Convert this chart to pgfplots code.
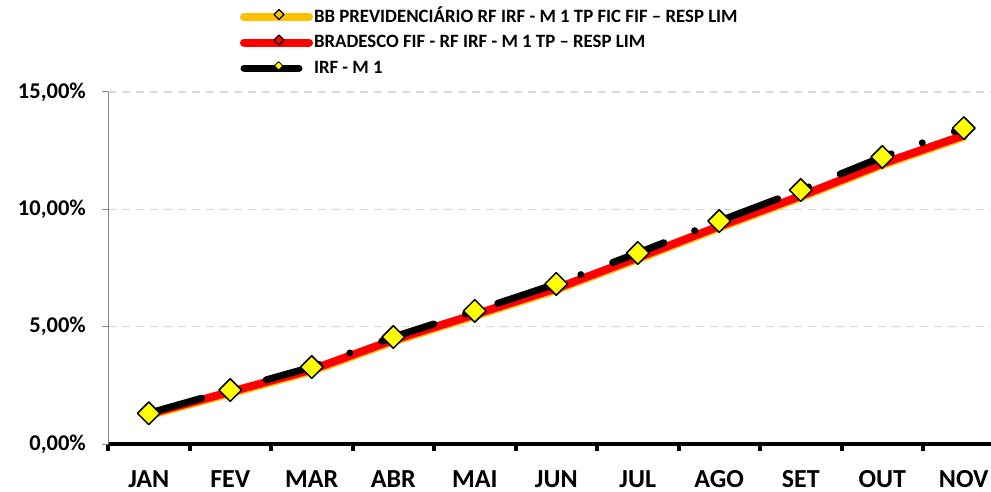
\documentclass[border=0pt]{standalone}
\usepackage{fontspec}
\setmainfont{Carlito}
\usepackage{pgfplots}
\pgfplotsset{compat=1.18}
\definecolor{bbor}{HTML}{FFC000}
\definecolor{brred}{HTML}{FF0000}
\definecolor{mkyel}{HTML}{FFFF00}
\definecolor{gridg}{HTML}{D9D9D9}
\definecolor{axg}{HTML}{868686}
\tikzset{legmk/.style={draw=black, line width=1.2bp, shape=rectangle, rotate=45, minimum size=7bp, inner sep=0pt, text height=0bp, text depth=0bp}}
\begin{document}
\begin{tikzpicture}
\path[use as bounding box] (0bp,0bp) rectangle (991bp,492bp);
\begin{axis}[
  at={(108bp,48bp)}, anchor=south west,
  scale only axis, width=883bp, height=352bp,
  xmin=-0.5, xmax=10.334, ymin=0, ymax=15,
  axis lines*=left,
  clip=false,
  x axis line style={black, line width=4bp},
  y axis line style={axg, line width=1bp},
  tick align=outside,
  major tick length=6bp,
  minor tick length=7bp,
  xtick={0,...,10},
  xticklabels={JAN,FEV,MAR,ABR,MAI,JUN,JUL,AGO,SET,OUT,NOV},
  minor xtick={-0.5,0.5,...,9.5},
  every major x tick/.style={draw=none},
  every minor x tick/.style={black, line width=4bp},
  ytick={0,5,10,15},
  yticklabels={{0,00\%},{5,00\%},{10,00\%},{15,00\%}},
  every major y tick/.style={axg, line width=1bp},
  xticklabel style={font=\fontsize{26bp}{30bp}\selectfont\bfseries, inner sep=0pt, anchor=north, yshift=-20bp},
  yticklabel style={font=\fontsize{22.5bp}{26bp}\selectfont\bfseries, inner sep=0pt, anchor=east, xshift=-16bp},
  ymajorgrids,
  grid style={gridg, line width=1.5bp, dash pattern=on 8bp off 6bp},
  legend cell align=left,
  legend style={at={(0.1495,1.2386)}, anchor=north west, draw=none, fill=none,
    inner sep=0pt, outer sep=0pt, row sep=7.5bp,
    font=\fontsize{18.8bp}{22bp}\selectfont\bfseries,
    nodes={inner sep=0pt, text height=14bp, text depth=4bp},
    /tikz/every odd column/.append style={column sep=1bp}},
]
\addplot[bbor, line width=8bp, line cap=round, line join=round,
  legend image code/.code={
    \draw[bbor, line width=8bp, line cap=round] (0bp,0bp) -- (65bp,0bp);
    \node[legmk, fill=bbor] at (32.5bp,0bp) {};
  }]
  coordinates {(0,1.22) (1,2.15) (2,3.10) (3,4.36) (4,5.45) (5,6.56) (6,7.87) (7,9.21) (8,10.50) (9,11.88) (10,13.08)};
\addlegendentry{BB PREVIDENCIÁRIO RF IRF - M 1 TP FIC FIF – RESP LIM}
\addplot[brred, line width=8bp, line cap=round, line join=round,
  legend image code/.code={
    \draw[brred, line width=8bp, line cap=round] (0bp,0bp) -- (65bp,0bp);
    \node[legmk, fill=brred] at (32.5bp,0bp) {};
  }]
  coordinates {(0,1.28) (1,2.22) (2,3.17) (3,4.43) (4,5.52) (5,6.63) (6,7.94) (7,9.28) (8,10.57) (9,11.95) (10,13.15)};
\addlegendentry{BRADESCO FIF - RF IRF - M 1 TP – RESP LIM}
\addplot[black, line width=7bp, line cap=round, line join=round,
  dash pattern=on 55bp off 33bp on 0bp off 34bp,
  mark=square*, mark size=8bp,
  mark options={solid, fill=mkyel, draw=black, line width=1.5bp, rotate=45},
  legend image code/.code={
    \draw[black, line width=7bp, line cap=round, dash pattern=on 55bp off 33bp on 0bp off 34bp] (0bp,0bp) -- (65bp,0bp);
    \node[legmk, line width=1bp, minimum size=6bp, fill=mkyel] at (32.5bp,0bp) {};
  }]
  coordinates {(0,1.31) (1,2.30) (2,3.28) (3,4.56) (4,5.67) (5,6.82) (6,8.14) (7,9.50) (8,10.82) (9,12.23) (10,13.46)};
\addlegendentry{IRF - M 1}
\end{axis}
\end{tikzpicture}
\end{document}
